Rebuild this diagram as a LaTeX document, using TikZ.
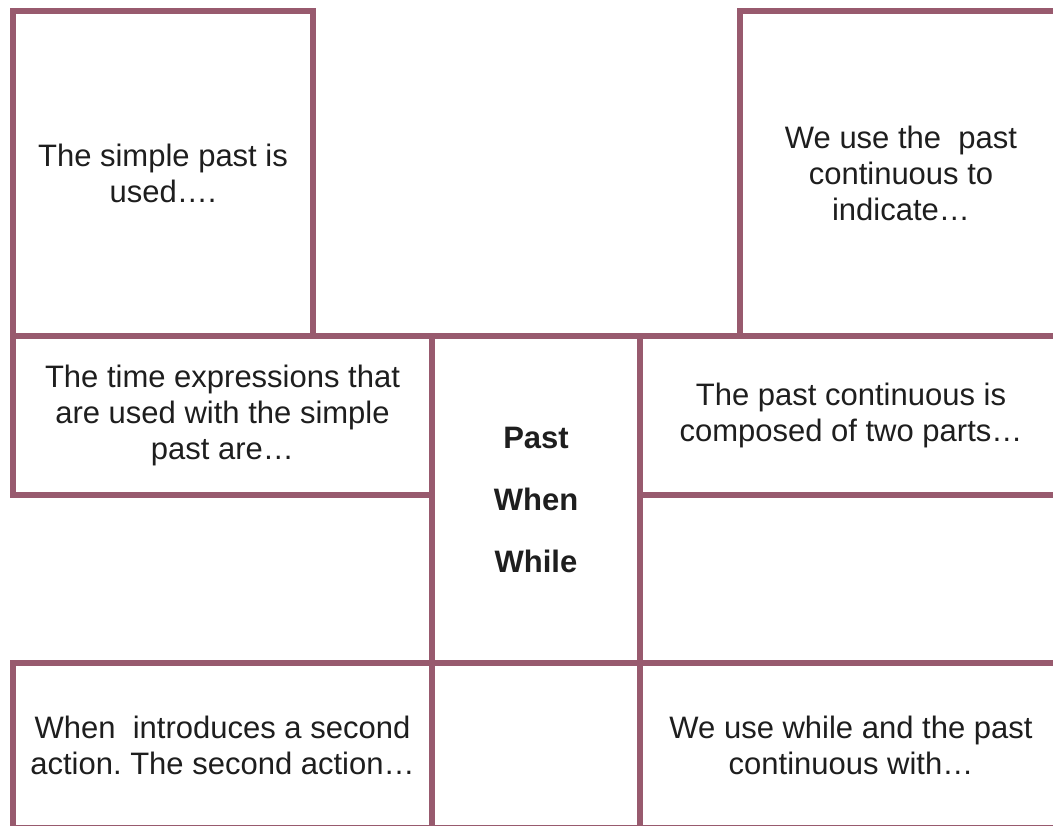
\documentclass[tikz,border=0pt]{standalone}
\usepackage{fontspec}
\setmainfont{Liberation Sans}
\frenchspacing
\definecolor{mauve}{RGB}{152,90,110}
\definecolor{ink}{RGB}{30,30,30}

\begin{document}
\begin{tikzpicture}[x=1pt,y=-1pt,
  cell/.style={rectangle,draw=mauve,line width=6.5pt,outer sep=0pt,inner sep=0pt,
    align=center,text=ink,font=\fontsize{31}{36}\selectfont}]
\useasboundingbox (0,0) rectangle (1053,826);
\fill[white] (0,0) rectangle (1053,826);

\path (163,173.5) node[cell,minimum width=300pt,minimum height=325pt] (simple) {The simple past is\\used\dots.};
\path (901,173.5) node[cell,minimum width=322pt,minimum height=325pt] (indicate) {We use the \ past\\continuous to\\indicate\dots};

\path (222.5,415.5) node[cell,minimum width=419pt,minimum height=159pt] (timeexp) {The time expressions that\\are used with the simple\\past are\dots};
\path (536,499.5) node[cell,minimum width=208pt,minimum height=327pt,font=\fontsize{31}{36}\selectfont\bfseries] (centre) {Past\\[26pt]When\\[26pt]While};
\path (851,415.5) node[cell,minimum width=422pt,minimum height=159pt] (composed) {The past continuous is\\composed of two parts\dots};

\path (222.5,745.5) node[cell,minimum width=419pt,minimum height=165pt] (whenbox) {When \ introduces a second\\action. The second action\dots};
\path (536,745.5) node[cell,minimum width=208pt,minimum height=165pt] (centrelow) {};
\path (851,745.5) node[cell,minimum width=422pt,minimum height=165pt] (whilebox) {We use while and the past\\continuous with\dots};
\end{tikzpicture}
\end{document}
